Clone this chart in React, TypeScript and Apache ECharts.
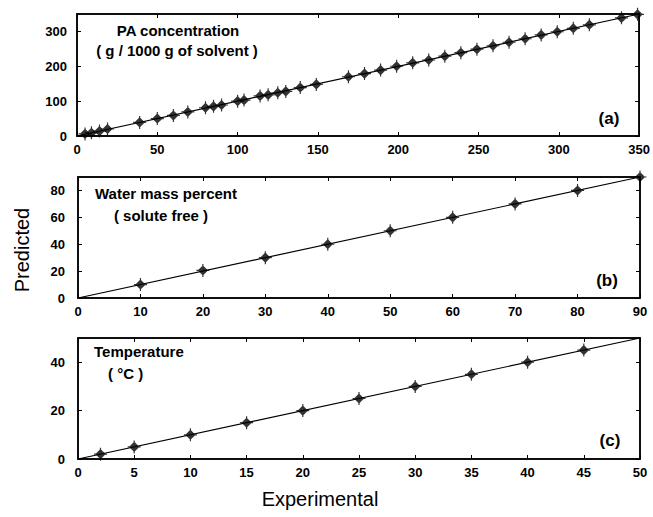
import React, { useEffect, useRef } from "react";
import * as echarts from "echarts";

// Panel (a): PA concentration
const paExperimental = [5, 9, 14, 19, 39, 50, 60, 69, 80, 85, 90, 100, 104, 114, 119, 125, 130, 139, 149, 169, 179, 189, 199, 209, 219, 229, 239, 249, 259, 269, 279, 289, 299, 309, 319, 339, 349];
const paPredicted = [6, 9, 14, 20, 39, 50, 59, 69, 81, 85, 89, 100, 103, 115, 118, 124, 128, 139, 148, 170, 179, 189, 200, 210, 218, 229, 239, 249, 259, 269, 279, 290, 299, 309, 319, 339, 349];
// Panel (b): water mass percent
const waterExperimental = [10, 20, 30, 40, 50, 60, 70, 80, 90];
const waterPredicted = [10, 20.5, 30, 40, 50, 60, 70, 80, 90];
// Panel (c): temperature
const tempExperimental = [2, 5, 10, 15, 20, 25, 30, 35, 40, 45];
const tempPredicted = [2, 5, 10, 15, 20, 25, 30, 35, 40, 45];

const panels = [
  { xMax: 350, xInt: 50, yMax: 350, yInt: 100, ex: paExperimental, pr: paPredicted },
  { xMax: 90, xInt: 10, yMax: 90, yInt: 20, ex: waterExperimental, pr: waterPredicted },
  { xMax: 50, xInt: 5, yMax: 50, yInt: 20, ex: tempExperimental, pr: tempPredicted },
];

const gridsPos = [
  { left: 77, top: 14, height: 122, yMargin: 10 },
  { left: 78, top: 177, height: 121, yMargin: 13 },
  { left: 78, top: 338, height: 121, yMargin: 13 },
];

const starSymbol =
  "path://M-0.9,-10 L0.9,-10 L0.9,-7 L7,-0.9 L10,-0.9 L10,0.9 L7,0.9 L0.9,7 L0.9,10 L-0.9,10 L-0.9,7 L-7,0.9 L-10,0.9 L-10,-0.9 L-7,-0.9 L-0.9,-7 Z";

const labelFont = {
  color: "#000",
  fontFamily: "Liberation Sans, Arial, sans-serif",
  fontWeight: "bold" as const,
  fontSize: 13,
};

export default function App() {
  const ref = useRef<HTMLDivElement>(null);
  useEffect(() => {
    if (!ref.current) return;
    const chart = echarts.init(ref.current, null, { renderer: "svg" });
    const grid: any[] = [];
    const xAxis: any[] = [];
    const yAxis: any[] = [];
    const series: any[] = [];
    panels.forEach((p, i) => {
      grid.push({
        left: gridsPos[i].left,
        right: 13,
        top: gridsPos[i].top,
        height: gridsPos[i].height,
        show: true,
        borderColor: "#000",
        borderWidth: 1.5,
        backgroundColor: "transparent",
      });
      const common = {
        type: "value",
        gridIndex: i,
        min: 0,
        splitLine: { show: false },
        axisLine: { show: true, onZero: false, lineStyle: { color: "#000", width: 1.5 } },
        axisTick: { show: true, inside: true, length: 4, lineStyle: { color: "#000", width: 1 } },
      };
      xAxis.push({
        ...common,
        max: p.xMax,
        interval: p.xInt,
        position: "bottom",
        axisLabel: { ...labelFont, margin: 7 },
      });
      xAxis.push({
        ...common,
        max: p.xMax,
        interval: p.xInt,
        position: "top",
        axisLabel: { show: false },
      });
      yAxis.push({
        ...common,
        max: p.yMax,
        interval: p.yInt,
        position: "left",
        axisLabel: { ...labelFont, margin: gridsPos[i].yMargin, showMaxLabel: false },
      });
      yAxis.push({
        ...common,
        max: p.yMax,
        interval: p.yInt,
        position: "right",
        axisLabel: { show: false },
      });
      series.push({
        type: "line",
        xAxisIndex: i * 2,
        yAxisIndex: i * 2,
        data: [
          [0, 0],
          [p.xMax, p.xMax],
        ],
        showSymbol: false,
        symbol: "none",
        lineStyle: { color: "#000", width: 1.2 },
        silent: true,
      });
      series.push({
        type: "scatter",
        xAxisIndex: i * 2,
        yAxisIndex: i * 2,
        data: p.ex.map((x, k) => [x, p.pr[k]]),
        symbol: starSymbol,
        symbolSize: 13,
        itemStyle: { color: "#000" },
      });
    });

    const annot = (text: string, x: number, y: number, align = "left", size = 15) => ({
      type: "text",
      x,
      y,
      style: {
        text,
        fill: "#000",
        font: `bold ${size}px "Liberation Sans", Arial, sans-serif`,
        textAlign: align,
        textVerticalAlign: "middle",
      },
    });

    chart.setOption({
      animation: false,
      backgroundColor: "#fff",
      grid,
      xAxis,
      yAxis,
      series,
      graphic: [
        annot("PA concentration", 178, 30, "center"),
        annot("( g / 1000 g of solvent )", 177, 50, "center"),
        annot("(a)", 609, 118, "center", 17),
        annot("Water mass percent", 95, 193, "left"),
        annot("( solute free )", 161, 215, "center"),
        annot("(b)", 607, 280, "center", 17),
        annot("Temperature", 94, 351, "left"),
        annot("( °C )", 108, 373, "left"),
        annot("(c)", 610, 440, "center", 17),
        {
          type: "text",
          x: 22,
          y: 250,
          rotation: Math.PI / 2,
          style: {
            text: "Predicted",
            fill: "#000",
            font: '20px "Liberation Sans", Arial, sans-serif',
            textAlign: "center",
            textVerticalAlign: "middle",
          },
        },
        {
          type: "text",
          x: 320,
          y: 499,
          style: {
            text: "Experimental",
            fill: "#000",
            font: '20px "Liberation Sans", Arial, sans-serif',
            textAlign: "center",
            textVerticalAlign: "middle",
          },
        },
      ],
    });
    return () => chart.dispose();
  }, []);
  return (
    <div
      ref={ref}
      style={{ position: "absolute", left: 0, top: 0, width: 653, height: 517 }}
    />
  );
}
